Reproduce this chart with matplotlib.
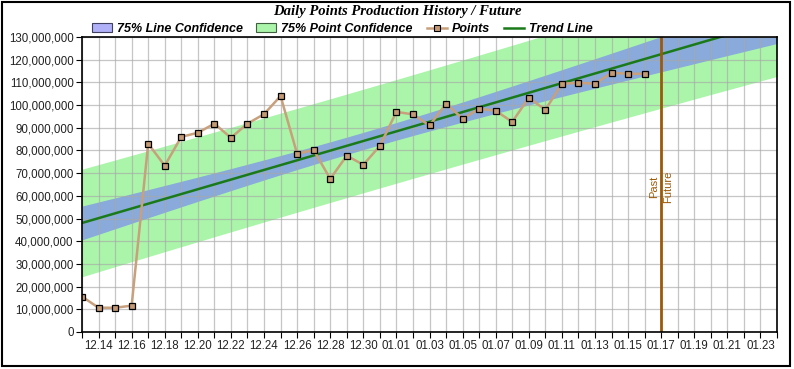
import numpy as np
import pandas as pd
import matplotlib
matplotlib.use("Agg")
import matplotlib.pyplot as plt
import matplotlib.dates as mdates
from matplotlib.patches import Rectangle, Patch
from matplotlib.lines import Line2D
from matplotlib.ticker import FuncFormatter

# daily points (millions), 12.13 .. 01.16
start = "2012-12-13"
points = [15.6, 10.7, 10.7, 11.6, 83.0, 73.3, 86.0, 87.8, 91.8, 85.6,
          91.8, 96.0, 104.0, 78.5, 80.2, 67.5, 77.7, 73.7, 82.0, 97.0,
          95.9, 91.0, 100.6, 94.0, 98.4, 97.5, 92.6, 103.2, 97.9, 109.4,
          109.8, 109.4, 114.2, 113.8, 113.8]
axis_end = "2013-01-24"
split_day = "2013-01-17"
t_75 = 1.17  # two-sided 75%, ~33 dof

plt.rcParams['font.family'] = ['Liberation Sans', 'DejaVu Sans']

days = pd.date_range(start, periods=len(points), freq="D")
all_days = pd.date_range(start, axis_end, freq="D")
y = np.array(points) * 1e6

# least squares trend + confidence bands
xi = np.arange(len(points))
xa = np.arange(len(all_days))
slope, icpt = np.polyfit(xi, y, 1)
fit = icpt + slope * xa
resid = y - (icpt + slope * xi)
n = len(points)
se = np.sqrt((resid ** 2).sum() / (n - 2))
sxx = ((xi - xi.mean()) ** 2).sum()
lw_band = t_75 * se * np.sqrt(1 / n + (xa - xi.mean()) ** 2 / sxx)
pt_band = t_75 * se * np.sqrt(1 + 1 / n + (xa - xi.mean()) ** 2 / sxx)

fig = plt.figure(figsize=(7.94, 3.69), dpi=100)
ax = fig.add_axes([82 / 794, 1 - 332 / 369, 695 / 794, 295 / 369])

green = "#aaf5aa"
blue = "#89aada"
ax.fill_between(all_days, fit - pt_band, fit + pt_band, color=green, lw=0, zorder=1)
ax.fill_between(all_days, fit - lw_band, fit + lw_band, color=blue, lw=0, zorder=2)
ax.plot(all_days, fit, color="#1a7a1a", lw=1.8, zorder=4)
ax.plot(days, y, color="#c8a07c", lw=1.8, marker="s", ms=4.6,
        mfc="#c49a74", mec="black", mew=0.9, zorder=5)

split = pd.Timestamp(split_day)
ax.axvline(split, color="#9c5a08", lw=2, zorder=6)
ymid = 64e6
ax.text(split - pd.Timedelta(hours=10), ymid, "Past", rotation=90, color="#9c5a08",
        fontsize=8, ha="center", va="center", zorder=7)
ax.text(split + pd.Timedelta(hours=10), ymid, "Future", rotation=90, color="#9c5a08",
        fontsize=8, ha="center", va="center", zorder=7)

ax.set_xlim(pd.Timestamp(start), pd.Timestamp(axis_end))
ax.set_ylim(0, 130e6)
ax.set_yticks(np.arange(0, 131e6, 10e6))
ax.yaxis.set_major_formatter(FuncFormatter(lambda v, p: f"{v:,.0f}"))
ax.xaxis.set_major_locator(mdates.DayLocator(interval=1))
ax.xaxis.set_major_formatter(
    FuncFormatter(lambda v, p: mdates.num2date(v).strftime("%m.%d")
                  if (int(round(v)) - int(mdates.date2num(pd.Timestamp(start)))) % 2 == 1 else ""))
ax.tick_params(axis="both", labelsize=8.3, length=4, width=0.8, colors="black",
               labelcolor="#222222", pad=2)
ax.grid(True, color="#a8a8a8", lw=0.9, alpha=0.65, zorder=3)
ax.set_axisbelow(False)
for s in ax.spines.values():
    s.set_linewidth(1.2)
    s.set_zorder(8)

fig.text(0.5, 1 - 12 / 369, "Daily Points Production History / Future", ha="center", va="center",
         family="Liberation Serif", style="italic", weight="bold", fontsize=10.5)

handles = [Patch(facecolor="#b0b0f8", edgecolor="#404060", lw=0.8),
           Patch(facecolor=green, edgecolor="#406040", lw=0.8),
           Line2D([], [], color="#c8a07c", lw=1.8, marker="s", ms=4.6, mfc="#c49a74", mec="black", mew=0.8),
           Line2D([], [], color="#1a7a1a", lw=1.8)]
labels = ["75% Line Confidence", "75% Point Confidence", "Points", "Trend Line"]
leg = fig.legend(handles, labels, loc="center", bbox_to_anchor=(342 / 794, 1 - 29 / 369), ncol=4,
                 frameon=False, prop={"weight": "bold", "style": "italic", "size": 9},
                 handlelength=1.6, handletextpad=0.4, columnspacing=1.1, borderpad=0)

fig.patches.append(Rectangle((2 / 794, 3 / 369), 788 / 794, 364 / 369, transform=fig.transFigure,
                             fill=False, edgecolor="black", lw=1.5))

fig.savefig("out.png", dpi=100)
